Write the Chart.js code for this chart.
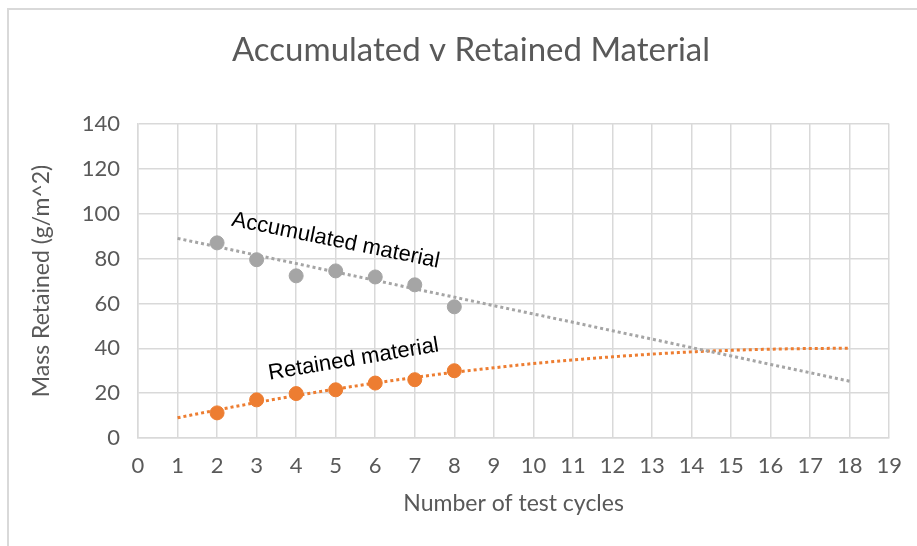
<!DOCTYPE html>
<html>
<head>
<meta charset="utf-8">
<script src="https://cdn.jsdelivr.net/npm/chart.js@4/dist/chart.umd.min.js"></script>
<style>
  html, body { margin: 0; padding: 0; background: #fff; }
  #wrap { width: 917px; height: 546px; position: relative; }
</style>
</head>
<body>
<div id="wrap"><canvas id="myChart"></canvas></div>
<script>
// measured points
const cycles = [2, 3, 4, 5, 6, 7, 8];
const accumulated = [87, 79.5, 72.3, 74.5, 71.8, 68.3, 58.5];
const retained = [11.2, 17, 19.8, 21.5, 24.5, 26, 30];

// trendlines
const trendX = [1, 2, 3, 4, 5, 6, 7, 8, 9, 10, 11, 12, 13, 14, 15, 16, 17, 18];
const accTrend = [89, 85.3, 81.5, 77.8, 74, 70.3, 66.5, 62.8, 59, 55.3, 51.6, 47.8, 44.1, 40.3, 36.6, 32.8, 29.1, 25.3];
const retTrend = [9, 12.5, 15.8, 18.9, 21.8, 24.5, 27, 29.3, 31.3, 33.2, 34.8, 36.2, 37.4, 38.4, 39.1, 39.6, 39.9, 40];

const xTicks = [0, 1, 2, 3, 4, 5, 6, 7, 8, 9, 10, 11, 12, 13, 14, 15, 16, 17, 18, 19];
const yTicks = [0, 20, 40, 60, 80, 100, 120, 140];

var grey = '#a5a5a5';
var orange = '#ed7d31';
var textGrey = '#595959';
var gridGrey = '#d9d9d9';
var font = 'Lato, "Open Sans", sans-serif';
var chartTitle = 'Accumulated v Retained Material';

function pts(xs, ys) {
  return xs.map(function (x, i) { return { x: x, y: ys[i] }; });
}

const labelsOnChart = [
  { text: 'Accumulated material', x: 5.0, y: 88, angle: 11.5 },
  { text: 'Retained material', x: 5.45, y: 35, angle: -9.5 }
];

// white page, thin frame on top/left, and the title (centred like the original)
const frame = {
  id: 'frame',
  beforeDraw(chart) {
    const ctx = chart.ctx;
    ctx.save();
    ctx.fillStyle = '#fff';
    ctx.fillRect(0, 0, chart.width, chart.height);
    ctx.strokeStyle = '#d9d9d9';
    ctx.lineWidth = 2;
    ctx.beginPath();
    ctx.moveTo(8, chart.height);
    ctx.lineTo(8, 9);
    ctx.lineTo(chart.width, 9);
    ctx.stroke();
    ctx.fillStyle = textGrey;
    ctx.font = '33px ' + font;
    ctx.textAlign = 'center';
    ctx.textBaseline = 'middle';
    ctx.fillText(chartTitle, 471, 50);
    ctx.restore();
  }
};

const curveText = {
  id: 'curveText',
  afterDatasetsDraw(chart) {
    const ctx = chart.ctx;
    const xs = chart.scales.x, ys = chart.scales.y;
    ctx.save();
    ctx.fillStyle = '#000';
    ctx.font = '22px "Liberation Sans", Arial, sans-serif';
    ctx.textAlign = 'center';
    ctx.textBaseline = 'middle';
    labelsOnChart.forEach(function (l) {
      ctx.save();
      ctx.translate(xs.getPixelForValue(l.x), ys.getPixelForValue(l.y));
      ctx.rotate(l.angle * Math.PI / 180);
      ctx.fillText(l.text, 0, 0);
      ctx.restore();
    });
    ctx.restore();
  }
};

const data = {
  datasets: [
    {
      label: 'Accumulated trend',
      type: 'line',
      data: pts(trendX, accTrend),
      borderColor: grey,
      borderWidth: 3,
      borderDash: [3, 3],
      pointRadius: 0,
      tension: 0,
      order: 3
    },
    {
      label: 'Retained trend',
      type: 'line',
      data: pts(trendX, retTrend),
      borderColor: orange,
      borderWidth: 3,
      borderDash: [3, 3],
      pointRadius: 0,
      cubicInterpolationMode: 'monotone',
      order: 4
    },
    {
      label: 'Accumulated material',
      data: pts(cycles, accumulated),
      backgroundColor: grey,
      borderColor: grey,
      pointRadius: 7,
      order: 1
    },
    {
      label: 'Retained material',
      data: pts(cycles, retained),
      backgroundColor: orange,
      borderColor: orange,
      pointRadius: 7,
      order: 2
    }
  ]
};

const config = {
  type: 'scatter',
  data: data,
  plugins: [frame, curveText],
  options: {
    responsive: true,
    maintainAspectRatio: false,
    animation: false,
    layout: { padding: { left: 20, right: 27, top: 124, bottom: 29 } },
    plugins: {
      legend: { display: false },
      tooltip: { enabled: false },
      title: { display: false }
    },
    scales: {
      x: {
        type: 'linear',
        min: 0,
        max: 19,
        afterBuildTicks: function (scale) {
          scale.ticks = xTicks.map(function (v) { return { value: v }; });
        },
        afterFit: function (scale) { scale.height = 79; },
        grid: { color: gridGrey, lineWidth: 1.5, drawTicks: false },
        border: { color: gridGrey, width: 1.5 },
        ticks: {
          color: textGrey,
          font: { family: font, size: 22 },
          padding: 15,
          maxRotation: 0,
          autoSkip: false
        },
        title: {
          display: true,
          text: 'Number of test cycles',
          color: textGrey,
          font: { family: font, size: 23 },
          padding: { top: 8, bottom: 0 }
        }
      },
      y: {
        min: 0,
        max: 140,
        afterBuildTicks: function (scale) {
          scale.ticks = yTicks.map(function (v) { return { value: v }; });
        },
        afterFit: function (scale) { scale.width = 118; },
        grid: { color: gridGrey, lineWidth: 1.5, drawTicks: false },
        border: { color: gridGrey, width: 1.5 },
        ticks: {
          color: textGrey,
          font: { family: font, size: 22 },
          padding: 18
        },
        title: {
          display: true,
          text: 'Mass Retained (g/m^2)',
          color: textGrey,
          font: { family: font, size: 23 },
          padding: { top: 8, bottom: 0 }
        }
      }
    }
  }
};

var myChart = new Chart(document.getElementById('myChart'), config);
</script>
</body>
</html>
